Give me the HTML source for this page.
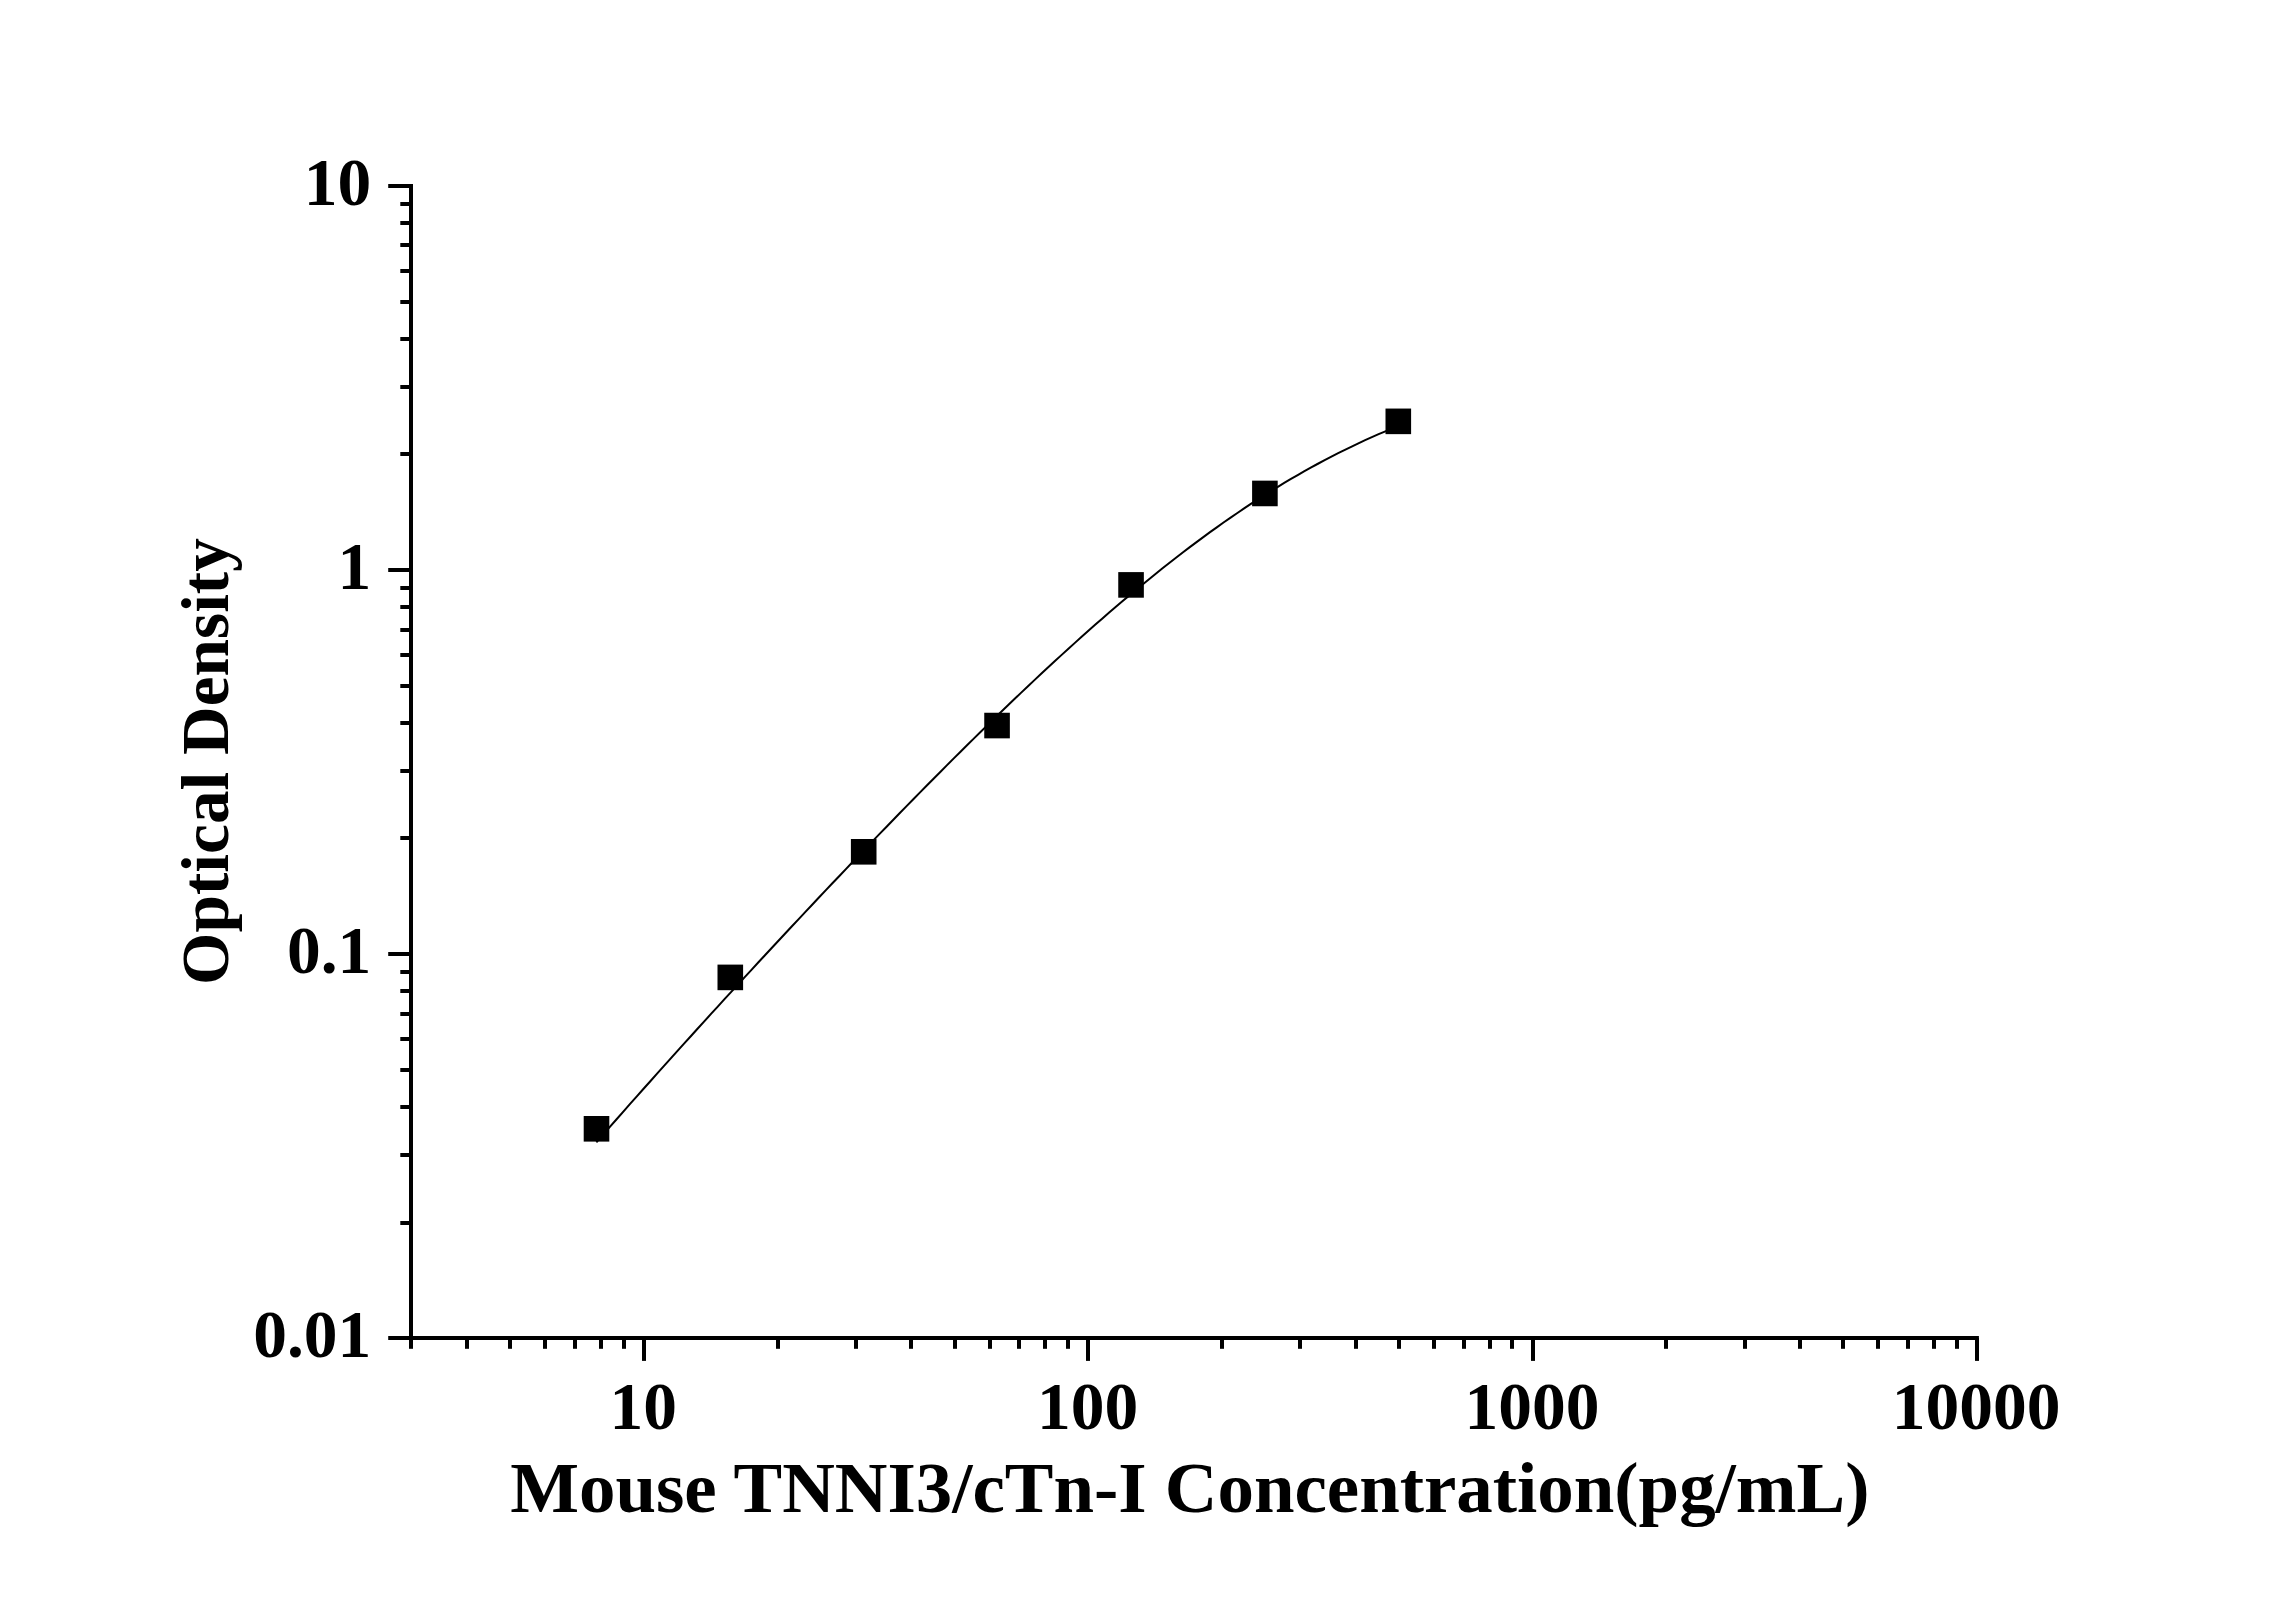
<!DOCTYPE html>
<html><head><meta charset="utf-8"><title>Standard Curve</title>
<style>html,body{margin:0;padding:0;background:#fff;width:2296px;height:1604px;overflow:hidden}svg{display:block}</style>
</head><body>
<svg width="2296" height="1604" viewBox="0 0 2296 1604">
<rect x="0" y="0" width="2296" height="1604" fill="#fff"/>
<g stroke="#000" stroke-width="4" fill="none">
<line x1="411" y1="186.00" x2="411" y2="1338" stroke-linecap="square"/>
<line x1="411" y1="1338" x2="1976.90" y2="1338" stroke-linecap="square"/>
<line x1="388.2" y1="1338" x2="411" y2="1338"/>
<line x1="400.3" y1="1223" x2="411" y2="1223"/>
<line x1="400.3" y1="1155" x2="411" y2="1155"/>
<line x1="400.3" y1="1107" x2="411" y2="1107"/>
<line x1="400.3" y1="1070" x2="411" y2="1070"/>
<line x1="400.3" y1="1039" x2="411" y2="1039"/>
<line x1="400.3" y1="1014" x2="411" y2="1014"/>
<line x1="400.3" y1="991" x2="411" y2="991"/>
<line x1="400.3" y1="972" x2="411" y2="972"/>
<line x1="388.2" y1="954" x2="411" y2="954"/>
<line x1="400.3" y1="838" x2="411" y2="838"/>
<line x1="400.3" y1="771" x2="411" y2="771"/>
<line x1="400.3" y1="723" x2="411" y2="723"/>
<line x1="400.3" y1="686" x2="411" y2="686"/>
<line x1="400.3" y1="655" x2="411" y2="655"/>
<line x1="400.3" y1="630" x2="411" y2="630"/>
<line x1="400.3" y1="607" x2="411" y2="607"/>
<line x1="400.3" y1="588" x2="411" y2="588"/>
<line x1="388.2" y1="570" x2="411" y2="570"/>
<line x1="400.3" y1="454" x2="411" y2="454"/>
<line x1="400.3" y1="387" x2="411" y2="387"/>
<line x1="400.3" y1="339" x2="411" y2="339"/>
<line x1="400.3" y1="302" x2="411" y2="302"/>
<line x1="400.3" y1="271" x2="411" y2="271"/>
<line x1="400.3" y1="245" x2="411" y2="245"/>
<line x1="400.3" y1="223" x2="411" y2="223"/>
<line x1="400.3" y1="204" x2="411" y2="204"/>
<line x1="388.2" y1="186" x2="411" y2="186"/>
<line x1="411" y1="1338" x2="411" y2="1348.8"/>
<line x1="467" y1="1338" x2="467" y2="1348.8"/>
<line x1="510" y1="1338" x2="510" y2="1348.8"/>
<line x1="545" y1="1338" x2="545" y2="1348.8"/>
<line x1="575" y1="1338" x2="575" y2="1348.8"/>
<line x1="601" y1="1338" x2="601" y2="1348.8"/>
<line x1="624" y1="1338" x2="624" y2="1348.8"/>
<line x1="644" y1="1338" x2="644" y2="1360.9"/>
<line x1="778" y1="1338" x2="778" y2="1348.8"/>
<line x1="856" y1="1338" x2="856" y2="1348.8"/>
<line x1="911" y1="1338" x2="911" y2="1348.8"/>
<line x1="955" y1="1338" x2="955" y2="1348.8"/>
<line x1="990" y1="1338" x2="990" y2="1348.8"/>
<line x1="1019" y1="1338" x2="1019" y2="1348.8"/>
<line x1="1045" y1="1338" x2="1045" y2="1348.8"/>
<line x1="1068" y1="1338" x2="1068" y2="1348.8"/>
<line x1="1088" y1="1338" x2="1088" y2="1360.9"/>
<line x1="1222" y1="1338" x2="1222" y2="1348.8"/>
<line x1="1300" y1="1338" x2="1300" y2="1348.8"/>
<line x1="1356" y1="1338" x2="1356" y2="1348.8"/>
<line x1="1399" y1="1338" x2="1399" y2="1348.8"/>
<line x1="1434" y1="1338" x2="1434" y2="1348.8"/>
<line x1="1464" y1="1338" x2="1464" y2="1348.8"/>
<line x1="1490" y1="1338" x2="1490" y2="1348.8"/>
<line x1="1512" y1="1338" x2="1512" y2="1348.8"/>
<line x1="1533" y1="1338" x2="1533" y2="1360.9"/>
<line x1="1666" y1="1338" x2="1666" y2="1348.8"/>
<line x1="1745" y1="1338" x2="1745" y2="1348.8"/>
<line x1="1800" y1="1338" x2="1800" y2="1348.8"/>
<line x1="1843" y1="1338" x2="1843" y2="1348.8"/>
<line x1="1878" y1="1338" x2="1878" y2="1348.8"/>
<line x1="1908" y1="1338" x2="1908" y2="1348.8"/>
<line x1="1934" y1="1338" x2="1934" y2="1348.8"/>
<line x1="1957" y1="1338" x2="1957" y2="1348.8"/>
<line x1="1977" y1="1338" x2="1977" y2="1360.9"/>
</g>
<polyline points="596.37,1142.32 603.11,1134.60 609.85,1126.90 616.60,1119.23 623.34,1111.59 630.08,1103.96 636.83,1096.36 643.57,1088.77 650.32,1081.21 657.06,1073.66 663.80,1066.14 670.55,1058.63 677.29,1051.14 684.03,1043.67 690.78,1036.21 697.52,1028.77 704.26,1021.35 711.01,1013.94 717.75,1006.55 724.49,999.18 731.24,991.82 737.98,984.48 744.73,977.15 751.47,969.84 758.21,962.54 764.96,955.26 771.70,947.99 778.44,940.74 785.19,933.50 791.93,926.28 798.67,919.08 805.42,911.89 812.16,904.72 818.90,897.56 825.65,890.42 832.39,883.30 839.14,876.19 845.88,869.10 852.62,862.03 859.37,854.98 866.11,847.94 872.85,840.93 879.60,833.93 886.34,826.95 893.08,820.00 899.83,813.06 906.57,806.15 913.31,799.26 920.06,792.39 926.80,785.55 933.55,778.72 940.29,771.93 947.03,765.16 953.78,758.41 960.52,751.70 967.26,745.01 974.01,738.35 980.75,731.72 987.49,725.12 994.24,718.56 1000.98,712.02 1007.72,705.52 1014.47,699.06 1021.21,692.63 1027.96,686.24 1034.70,679.88 1041.44,673.57 1048.19,667.30 1054.93,661.06 1061.67,654.87 1068.42,648.73 1075.16,642.63 1081.90,636.58 1088.65,630.57 1095.39,624.61 1102.13,618.71 1108.88,612.86 1115.62,607.06 1122.37,601.31 1129.11,595.62 1135.85,589.99 1142.60,584.41 1149.34,578.90 1156.08,573.45 1162.83,568.05 1169.57,562.73 1176.31,557.46 1183.06,552.27 1189.80,547.14 1196.55,542.08 1203.29,537.09 1210.03,532.17 1216.78,527.32 1223.52,522.54 1230.26,517.84 1237.01,513.21 1243.75,508.66 1250.49,504.19 1257.24,499.79 1263.98,495.47 1270.72,491.23 1277.47,487.06 1284.21,482.98 1290.96,478.97 1297.70,475.05 1304.44,471.20 1311.19,467.44 1317.93,463.75 1324.67,460.15 1331.42,456.62 1338.16,453.18 1344.90,449.82 1351.65,446.53 1358.39,443.33 1365.13,440.20 1371.88,437.16 1378.62,434.19 1385.37,431.30 1392.11,428.48 1398.85,425.74" fill="none" stroke="#000" stroke-width="2" stroke-linejoin="round"/>
<rect x="583.70" y="1116.00" width="25.6" height="25.6" fill="#000"/>
<rect x="717.50" y="964.60" width="25.6" height="25.6" fill="#000"/>
<rect x="850.90" y="839.00" width="25.6" height="25.6" fill="#000"/>
<rect x="984.25" y="712.75" width="25.6" height="25.6" fill="#000"/>
<rect x="1118.25" y="572.10" width="25.6" height="25.6" fill="#000"/>
<rect x="1252.10" y="480.65" width="25.6" height="25.6" fill="#000"/>
<rect x="1385.50" y="408.55" width="25.6" height="25.6" fill="#000"/>
<text x="371.3" y="204.9" font-family="&quot;Liberation Serif&quot;, &quot;Times New Roman&quot;, serif" font-weight="bold" fill="#000" font-size="67.5" text-anchor="end">10</text>
<text x="371.3" y="588.9" font-family="&quot;Liberation Serif&quot;, &quot;Times New Roman&quot;, serif" font-weight="bold" fill="#000" font-size="67.5" text-anchor="end">1</text>
<text x="371.3" y="973.0" font-family="&quot;Liberation Serif&quot;, &quot;Times New Roman&quot;, serif" font-weight="bold" fill="#000" font-size="67.5" text-anchor="end">0.1</text>
<text x="371.3" y="1357.1" font-family="&quot;Liberation Serif&quot;, &quot;Times New Roman&quot;, serif" font-weight="bold" fill="#000" font-size="67.5" text-anchor="end">0.01</text>
<text x="643.3" y="1429.0" font-family="&quot;Liberation Serif&quot;, &quot;Times New Roman&quot;, serif" font-weight="bold" fill="#000" font-size="67.5" text-anchor="middle">10</text>
<text x="1087.6" y="1429.0" font-family="&quot;Liberation Serif&quot;, &quot;Times New Roman&quot;, serif" font-weight="bold" fill="#000" font-size="67.5" text-anchor="middle">100</text>
<text x="1531.9" y="1429.0" font-family="&quot;Liberation Serif&quot;, &quot;Times New Roman&quot;, serif" font-weight="bold" fill="#000" font-size="67.5" text-anchor="middle">1000</text>
<text x="1976.2" y="1429.0" font-family="&quot;Liberation Serif&quot;, &quot;Times New Roman&quot;, serif" font-weight="bold" fill="#000" font-size="67.5" text-anchor="middle">10000</text>
<text x="1189.8" y="1511.8" font-family="&quot;Liberation Serif&quot;, &quot;Times New Roman&quot;, serif" font-weight="bold" fill="#000" font-size="72.9" text-anchor="middle">Mouse TNNI3/cTn-I Concentration(pg/mL)</text>
<text transform="translate(227.5,761.5) rotate(-90)" x="0" y="0" font-family="&quot;Liberation Serif&quot;, &quot;Times New Roman&quot;, serif" font-weight="bold" fill="#000" font-size="67.3" text-anchor="middle">Optical Density</text>
</svg>
</body></html>
